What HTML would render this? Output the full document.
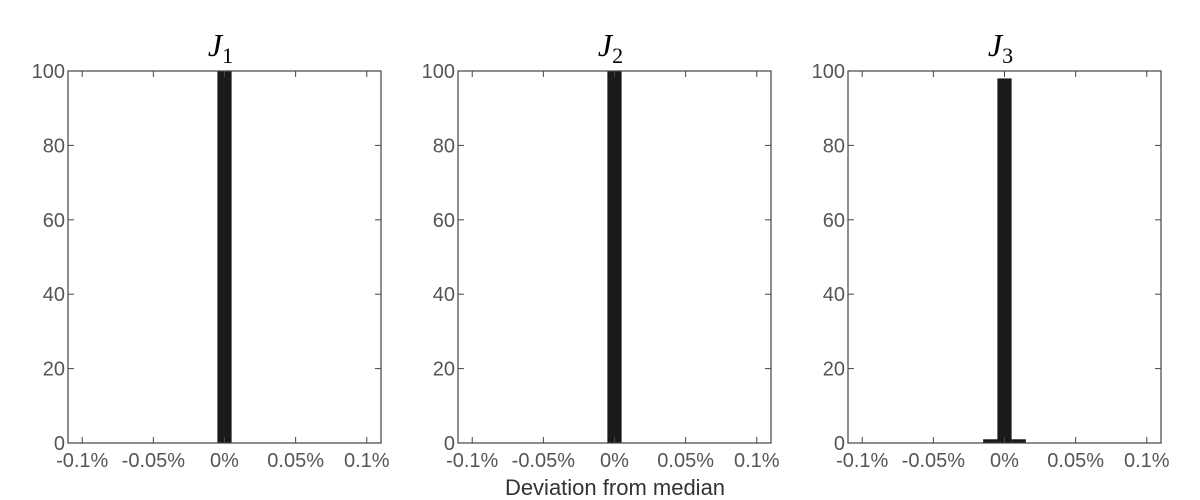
<!DOCTYPE html>
<html><head><meta charset="utf-8"><style>
html,body{margin:0;padding:0;background:#fff;}
svg{display:block;font-family:"Liberation Sans",sans-serif;}
</style></head><body>
<svg id="chart" width="1200" height="500"></svg>
<script>
const titles = ["1","2","3"];
const binStarts = [-0.015,-0.005,0.005];
const binWidth = 0.01;
const counts = [[0,100,0],[0,100,0],[1,98,1]];
const xTicks = [-0.1,-0.05,0,0.05,0.1];
const xTickLabels = ["-0.1%","-0.05%","0%","0.05%","0.1%"];
const yTicks = [0,20,40,60,80,100];

const NS="http://www.w3.org/2000/svg";
const svgEl=document.getElementById('chart');
function mk(t,a,p){const e=document.createElementNS(NS,t);for(const k in a)e.setAttribute(k,a[k]);(p||svgEl).appendChild(e);return e;}
const lefts=[68,458,848], W=313, plotTop=71, plotBottom=443;
const xmin=-0.11,xmax=0.11;
lefts.forEach((L,i)=>{
  const g=mk('g',{});
  
  
  const X=v=>L+(v-xmin)/(xmax-xmin)*W;
  const Y=v=>plotBottom-v/100*(plotBottom-plotTop);
  counts[i].forEach((c,j)=>{
    if(c<=0)return;
    const r=mk('rect',{x:X(binStarts[j]),y:Y(c),width:X(binStarts[j]+binWidth)-X(binStarts[j]),height:plotBottom-Y(c),fill:'#1a1a1a'},g);
    
    
  });
  const fr=mk('rect',{x:L,y:plotTop,width:W,height:plotBottom-plotTop,fill:'none',stroke:'#444','stroke-width':1.2},g);
  
  
  xTicks.forEach((v,k)=>{
    const x=X(v);
    mk('line',{x1:x,x2:x,y1:plotBottom,y2:plotBottom-6,stroke:'#444'},g);
    mk('line',{x1:x,x2:x,y1:plotTop,y2:plotTop+6,stroke:'#444'},g);
    const t=mk('text',{x:x,y:plotBottom+24,'text-anchor':'middle','font-size':20,fill:'#555'},g);
    t.textContent=xTickLabels[k];
    
    
  });
  yTicks.forEach(v=>{
    const y=Y(v);
    mk('line',{x1:L,x2:L+6,y1:y,y2:y,stroke:'#444'},g);
    mk('line',{x1:L+W,x2:L+W-6,y1:y,y2:y,stroke:'#444'},g);
    const t=mk('text',{x:L-3,y:y+7,'text-anchor':'end','font-size':20,fill:'#555'},g);
    t.textContent=v;
    
    
  });
  const tt=mk('text',{x:L+W/2-4,y:56,'text-anchor':'middle','font-size':32,'font-family':'"Liberation Serif",serif',fill:'#000'},g);
  
  
  const a=mk('tspan',{'font-style':'italic'},tt);a.textContent='J';
  const b=mk('tspan',{'font-size':22,dy:7},tt);b.textContent=titles[i];
});
const xl=mk('text',{x:615,y:495,'text-anchor':'middle','font-size':22,fill:'#333'});
xl.textContent='Deviation from median';


</script>
</body></html>
